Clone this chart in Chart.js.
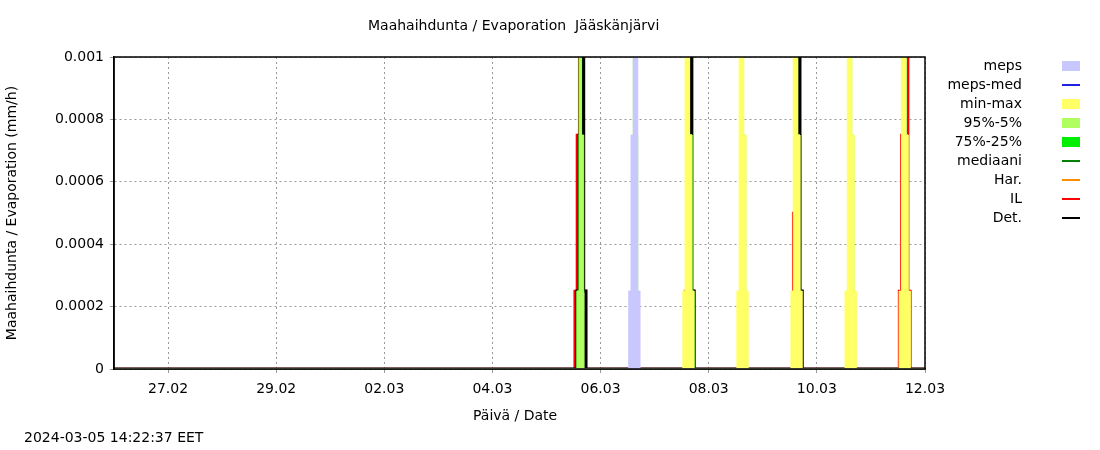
<!DOCTYPE html>
<html>
<head>
<meta charset="utf-8">
<script src="https://cdn.jsdelivr.net/npm/chart.js@4"></script>
<style>
  body { margin: 0; background: #fff; font-family: "DejaVu Sans", sans-serif; font-size: 14px; }
  #wrap { position: relative; width: 1100px; height: 450px; }
  .t { position: absolute; white-space: nowrap; color: #000; }
  .lg { position: absolute; left: 880px; width: 142px; text-align: right; }
  .sw { position: absolute; left: 1062px; width: 18px; }
</style>
</head>
<body>
<div id="wrap">
  <canvas id="c" width="1100" height="450"></canvas>
  <div class="t" style="left:368px; top:17px;">Maahaihdunta / Evaporation&nbsp; Jääskänjärvi</div>
  <div class="t" style="left:473px; top:407px;">Päivä / Date</div>
  <div class="t" style="left:24px; top:429px;">2024-03-05 14:22:37 EET</div>
  <div id="legend"></div>
</div>
<script>
// x = hours since 26.02 00:00
const xTickHours = [24, 72, 120, 168, 216, 264, 312, 360];
const xTickLabels = ['27.02', '29.02', '02.03', '04.03', '06.03', '08.03', '10.03', '12.03'];
const yTicks = [0, 0.0002, 0.0004, 0.0006, 0.0008, 0.001];
const yLabels = ['0', '0.0002', '0.0004', '0.0006', '0.0008', '0.001'];

// explicit hourly points for each series (zero elsewhere)
const mepsHours = [0, 228, 229, 230, 231, 232, 233, 234, 360];
const mepsVals  = [0, 0, 0.00025, 0.00075, 0.001, 0.001, 0.00025, 0, 0];

const minmaxHours = [0,
  252, 253, 254, 255, 256, 257, 258,
  276, 277, 278, 279, 280, 281, 282,
  300, 301, 302, 303, 304, 305, 306,
  324, 325, 326, 327, 328, 329, 330,
  348, 349, 350, 351, 352, 353, 354, 360];
const minmaxVals  = [0,
  0, 0.00025, 0.001, 0.001, 0.00075, 0.00025, 0,
  0, 0.00025, 0.001, 0.001, 0.00075, 0.00025, 0,
  0, 0.00025, 0.001, 0.001, 0.00075, 0.00025, 0,
  0, 0.00025, 0.001, 0.001, 0.00075, 0.00025, 0,
  0, 0.00025, 0.001, 0.001, 0.00075, 0.00025, 0, 0];

const p95Hours = [0,
  205, 206, 207, 208, 209,
  229, 230, 231, 232, 233,
  253, 254, 255, 256, 257,
  277, 278, 279, 280, 281,
  301, 302, 303, 304, 305,
  325, 326, 327, 328, 329,
  349, 350, 351, 352, 353, 360];
const p95Vals  = [0,
  0, 0.00025, 0.001, 0.00075, 0,
  0, 0.00025, 0.001, 0.00075, 0,
  0, 0.00025, 0.001, 0.00075, 0,
  0, 0.00025, 0.001, 0.00075, 0,
  0, 0.00025, 0.001, 0.00075, 0,
  0, 0.00025, 0.001, 0.00075, 0,
  0, 0.00025, 0.001, 0.00075, 0, 0];

const p75Hours = [0, 205, 206, 207, 208, 209, 254, 255, 256, 257, 258, 349, 350, 351, 352, 353, 360];
const p75Vals  = [0, 0, 0.00025, 0.00075, 0.00025, 0,
                  0, 0.00025, 0.00075, 0.00025, 0,
                  0, 0.00025, 0.001, 0.00025, 0, 0];

const medHours = [0, 206, 207, 208, 255, 256, 257, 350, 351, 352, 360];
const medVals  = [0, 0, 0.001, 0, 0, 0.00075, 0, 0, 0.00075, 0, 0];

const ilHours = [0, 204, 205, 206, 207, 208, 209, 210, 253, 254, 255, 256, 257, 258, 301, 302, 303, 304, 305, 348, 349, 350, 351, 352, 353, 354, 360];
const ilVals  = [0, 0, 0.00025, 0.00075, 0.001, 0.001, 0.00025, 0,
                 0, 0.00025, 0.00075, 0.001, 0.00025, 0,
                 0, 0.0005, 0.001, 0.00075, 0,
                 0, 0.00025, 0.00075, 0.001, 0.001, 0.00025, 0, 0];

const detHours = [0, 205, 206, 207, 208, 209, 210, 254, 255, 256, 257, 258, 302, 303, 304, 305, 306, 360];
const detVals  = [0, 0, 0.00025, 0.00075, 0.001, 0.00025, 0,
                  0, 0.00025, 0.001, 0.00025, 0,
                  0, 0.00025, 0.001, 0.00025, 0, 0];

const pts = (hs, vs) => hs.map((h, i) => ({ x: h, y: vs[i] }));

function band(label, hs, vs, color) {
    return { label, data: pts(hs, vs), stepped: 'middle', fill: 'origin',
             backgroundColor: color, borderColor: color, borderWidth: 1, pointRadius: 0 };
}
function line(label, hs, vs, color, w) {
    return { label, data: pts(hs, vs), stepped: 'middle', fill: false,
             borderColor: color, borderWidth: w, pointRadius: 0 };
}

const FONT = { family: 'DejaVu Sans', size: 14 };

const datasets = [
    band('meps', mepsHours, mepsVals, '#c8c8ff'),
    band('min-max', minmaxHours, minmaxVals, '#ffff66'),
    band('95%-5%', p95Hours, p95Vals, '#b0ff60'),
    band('75%-25%', p75Hours, p75Vals, '#00ee00'),
    line('mediaani', medHours, medVals, '#008000', 1.5),
    line('Det.', detHours, detVals, '#000000', 3),
    line('IL', ilHours, ilVals, '#ff0000', 2.5),
];

new Chart(document.getElementById('c'), {
    type: 'line',
    data: { datasets },
    options: {
        responsive: false, animation: false,
        layout: { padding: { top: 57, right: 175, bottom: 0, left: 0 } },
        plugins: { legend: { display: false }, tooltip: { enabled: false } },
        scales: {
            x: {
                type: 'linear', min: 0, max: 360,
                afterBuildTicks: s => { s.ticks = xTickHours.map(v => ({ value: v })); },
                afterFit: s => { s.height = 81; },
                ticks: { color: '#000', font: FONT, maxRotation: 0, padding: 8,
                         callback: v => xTickLabels[xTickHours.indexOf(v)] },
                grid: { color: '#999', tickLength: 4 },
                border: { color: '#000', width: 1.5, dash: [2, 3] }
            },
            y: {
                min: 0, max: 0.001,
                afterBuildTicks: s => { s.ticks = yTicks.map(v => ({ value: v })); },
                afterFit: s => { s.width = 114; },
                title: { display: true, text: 'Maahaihdunta / Evaporation (mm/h)', color: '#000', font: FONT },
                ticks: { color: '#000', font: FONT, padding: 6,
                         callback: v => yLabels[yTicks.indexOf(v)] },
                grid: { color: '#999', tickLength: 4 },
                border: { color: '#000', width: 1.5, dash: [2, 3] }
            }
        }
    },
    plugins: [{
        id: 'frame',
        afterDraw(chart) {
            const { ctx, chartArea: a } = chart;
            ctx.save();
            ctx.strokeStyle = '#000'; ctx.lineWidth = 1.5;
            ctx.strokeRect(a.left, a.top, a.right - a.left, a.bottom - a.top);
            ctx.restore();
        }
    }]
});

// legend on the right
const legendItems = [
    ['meps', '#c8c8ff', 10], ['meps-med', '#2020e0', 2], ['min-max', '#ffff66', 10],
    ['95%-5%', '#b0ff60', 10], ['75%-25%', '#00ee00', 10], ['mediaani', '#008000', 2],
    ['Har.', '#ff8c00', 2], ['IL', '#ff0000', 2], ['Det.', '#000000', 2]
];
const lg = document.getElementById('legend');
legendItems.forEach(([name, col, h], i) => {
    const y = 66 + i * 19;
    const t = document.createElement('div');
    t.className = 't lg'; t.style.top = (y - 9) + 'px'; t.textContent = name;
    const s = document.createElement('div');
    s.className = 'sw'; s.style.top = (y - h / 2) + 'px'; s.style.height = h + 'px'; s.style.background = col;
    lg.appendChild(t); lg.appendChild(s);
});
</script>
</body>
</html>
